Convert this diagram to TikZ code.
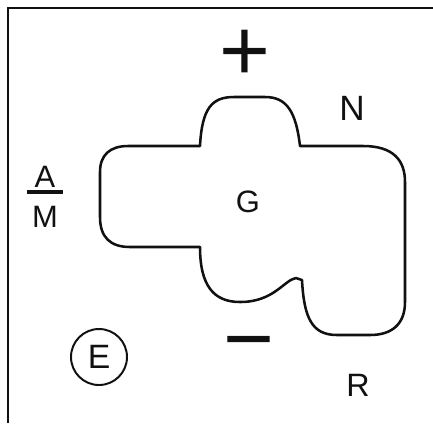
\documentclass[tikz,border=0pt]{standalone}
\usepackage{fontspec}
\setmainfont{Liberation Sans}
\usepackage{tikz}
\definecolor{cizgi}{HTML}{111111}

\begin{document}
\begin{tikzpicture}[x=0.25mm,y=-0.25mm,
  harf/.style={font=\fontsize{#1}{#1}\selectfont,inner sep=0pt,text=cizgi},
  isaret/.style={font=\fontsize{62}{62}\selectfont,inner sep=0pt,anchor=base,text=cizgi}]
\useasboundingbox (0,0) rectangle (433,423);
% cerceve
\draw[cizgi,line width=1.8pt] (8,423)--(8,8)--(433,8);
% G bolgesi
\draw[cizgi,line width=1.8pt,line join=round]
  (200,146) .. controls (202,108) and (212,97) .. (234,97) -- (265,97)
  .. controls (287,97) and (296,112) .. (300,146) -- (363,146)
  .. controls (393,146) and (405,160) .. (405,182) -- (405,302)
  .. controls (405,324) and (392,335) .. (370,335) -- (337,335)
  .. controls (312,335) and (304,318) .. (302,280) -- (296,278)
  .. controls (284,280) and (274,302) .. (240,302)
  .. controls (214,302) and (200,286) .. (200,247) -- (130,247)
  .. controls (110,247) and (100,237) .. (100,217) -- (100,172)
  .. controls (100,155) and (110,146) .. (128,146) -- cycle;
\node[harf=22] (G) at (248,202) {G};
\node[harf=25] (N) at (352,108) {N};
\node[harf=23] (R) at (358,385) {R};
\node[harf=22] (A) at (45,177) {A};
\node[harf=22] (M) at (45,217) {M};
\draw[cizgi,line width=2.8pt] (27,192)--(63,192);
\node[harf=24,draw=cizgi,line width=1.4pt,circle,minimum size=14mm] (E) at (99,357) {E};
\node[isaret] (arti) at (245,80) {+};
\node[isaret] (eksi) at (249,368) {−};
\end{tikzpicture}
\end{document}
